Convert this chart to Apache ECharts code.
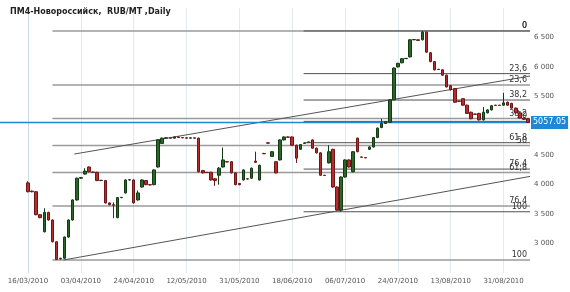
<!DOCTYPE html>
<html><head><meta charset="utf-8">
<script src="https://cdn.jsdelivr.net/npm/echarts@6/dist/echarts.min.js"></script>
<style>html,body{margin:0;padding:0;background:#fff}#c{width:570px;height:292px}</style>
</head><body><div id="c"></div>
<script>
const chartTitle = 'ПМ4-Новороссийск,  RUB/MT ,Daily';
const tickLabels = ['16/03/2010','03/04/2010','24/04/2010','12/05/2010','31/05/2010','18/06/2010','06/07/2010','24/07/2010','13/08/2010','31/08/2010'];
const tickStep = 13;
const opens = [4030,3890,3880,3490,3200,3530,3400,3030,2740,2750,3110,3400,3740,4110,4180,4300,4215,4210,4070,4070,3690,3660,3440,3780,3860,4080,4080,3740,3960,4070,4000,4000,4300,4700,4790,4795,4790,4810,4800,4795,4790,4795,4790,4240,4210,4210,4100,4160,4300,4390,4390,4200,4020,4080,4100,4110,4400,4080,4530,4710,4480,4390,4420,4760,4810,4810,4670,4600,4700,4720,4760,4620,4540,4160,4370,4600,3960,3570,4130,4420,4220,4790,4470,4460,4600,4640,4800,4970,5040,5060,5440,6000,6070,6140,6170,6460,6460,6460,6590,6240,6090,5960,5950,5860,5680,5630,5420,5460,5350,5230,5200,5210,5100,5220,5270,5350,5350,5350,5400,5380,5300,5220,5130,5120];
const closes = [3880,3880,3490,3440,3530,3400,3030,2730,2750,3110,3400,3740,4110,4120,4230,4220,4210,4070,4075,3690,3660,3650,3780,3785,4080,4085,3690,3860,4080,4000,3995,4250,4760,4790,4795,4790,4810,4800,4795,4790,4795,4790,4220,4200,4205,4080,4070,4280,4420,4385,4200,4000,4000,4250,4095,4280,4380,4330,4525,4705,4560,4200,4760,4810,4805,4670,4450,4680,4705,4725,4620,4540,4160,4155,4560,3960,3570,4130,4420,4300,4560,4560,4465,4455,4640,4800,4960,5040,5070,5440,5980,6060,6140,6145,6460,6465,6450,6590,6250,6090,5950,5955,5860,5660,5610,5400,5415,5350,5210,5120,5195,5100,5230,5270,5340,5345,5345,5390,5350,5300,5220,5130,5110,5057.05];
const lows = [3870,3870,3480,3430,3190,3390,3020,2720,2730,2740,3100,3390,3730,4100,4170,4210,4200,4060,4060,3680,3650,3430,3430,3770,3850,4070,3680,3730,3950,3990,3990,3990,4290,4690,4785,4785,4785,4795,4790,4785,4785,4785,4210,4190,4200,4070,3980,4000,4290,4380,4190,3990,3990,4070,4090,4100,4370,4070,4520,4700,4470,4190,4410,4750,4800,4660,4370,4590,4695,4715,4610,4530,4150,4150,4360,3950,3560,3540,4120,4290,4210,4550,4460,4450,4590,4630,4790,4960,5030,5050,5430,5990,6060,6135,6160,6455,6445,6450,6240,6080,5940,5950,5850,5650,5600,5390,5410,5340,5200,5110,5190,5090,5090,5210,5260,5340,5340,5340,5340,5290,5210,5120,5100,5050];
const highs = [4060,3900,3890,3500,3600,3540,3410,3040,2760,3120,3410,3750,4120,4130,4280,4310,4220,4220,4080,4080,3700,3700,3790,3790,4090,4090,4090,3900,4090,4080,4005,4260,4770,4800,4800,4800,4820,4815,4805,4800,4800,4800,4800,4250,4215,4220,4110,4300,4630,4395,4400,4210,4030,4260,4105,4290,4560,4340,4540,4720,4570,4400,4770,4820,4820,4820,4680,4690,4710,4730,4770,4630,4550,4165,4670,4610,3970,4140,4430,4430,4570,4800,4475,4465,4650,4810,4970,5120,5080,5450,5990,6070,6150,6150,6470,6470,6465,6610,6600,6250,6100,5965,5960,5870,5690,5640,5425,5470,5360,5240,5205,5220,5320,5280,5350,5355,5355,5560,5410,5390,5310,5230,5140,5130];
const fibHigh = 6610, fibLowA = 2720, fibLowB = 3540;
const fibRatios = [0, 23.6, 38.2, 50, 61.8, 76.4, 100];
const fibStartA = 6, fibStartB = 67.8;
const trendUpper = [[11.4, 4520], [123.5, 5845]];
const trendLower = [[8.7, 2720], [123.5, 4140]];
const lastPrice = closes[closes.length - 1];

const n = closes.length;
const cats = closes.map((_, i) => String(i));
const candles = closes.map((c, i) => [opens[i], c, lows[i], highs[i]]);
const isTick = i => i % tickStep === 0 && (i / tickStep) < tickLabels.length;
const FONT = 'DejaVu Sans';

function fibSeries(low, start, color, width) {
  return fibRatios.map(r => {
    const v = fibHigh - (fibHigh - low) * r / 100;
    return {
      type: 'line', xAxisIndex: 1, yAxisIndex: 0, clip: false, silent: true,
      symbol: 'circle', symbolSize: 0, showSymbol: true, animation: false,
      lineStyle: { color: color, width: width },
      itemStyle: { color: color },
      data: [[start, v], { value: [n - 0.5, v], label: {
        show: true, formatter: String(r).replace('.', ','), position: 'left',
        distance: 3, verticalAlign: 'bottom', offset: [0, -1],
        color: '#333', fontSize: 8, fontFamily: FONT } }],
      z: 3
    };
  });
}
function trendSeries(pts) {
  return { type: 'line', xAxisIndex: 1, yAxisIndex: 0, clip: false, silent: true,
    showSymbol: false, symbol: 'none', animation: false,
    lineStyle: { color: '#555', width: 1 }, data: pts, z: 3 };
}

const chart = echarts.init(document.getElementById('c'), null, { renderer: 'canvas' });
chart.setOption({
  animation: false,
  backgroundColor: '#fff',
  title: { text: chartTitle, left: 5, top: 3,
    textStyle: { fontSize: 8, fontWeight: 'bold', color: '#222', fontFamily: FONT } },
  grid: [
    { left: 26, right: 40, top: 8, bottom: 19 },
    { left: 0, right: 40, top: 8, bottom: 19 }
  ],
  xAxis: [
    { type: 'category', gridIndex: 0, data: cats, boundaryGap: true,
      axisLine: { show: false }, axisTick: { show: false },
      axisLabel: { interval: (i) => isTick(i), formatter: (v, i) => isTick(i) ? tickLabels[i / tickStep] : '',
        fontSize: 7, color: '#555', fontFamily: FONT, margin: 5 },
      splitLine: { show: true, interval: (i) => isTick(i), alignWithLabel: true,
        lineStyle: { color: '#e2eaf1', width: 1 } } },
    { type: 'value', gridIndex: 0, min: -0.5, max: n - 0.5, show: false },
    { type: 'value', gridIndex: 1, min: 0, max: 1, show: false }
  ],
  yAxis: [
    { type: 'value', gridIndex: 0, position: 'right', min: 2500, max: 7000, interval: 500,
      axisLine: { show: true, lineStyle: { color: '#cddbe6' } }, axisTick: { show: false },
      splitLine: { show: false },
      axisLabel: { showMinLabel: false, showMaxLabel: false, margin: 4, fontSize: 7, color: '#555', fontFamily: FONT,
        formatter: v => (v === 5000 ? '' : String(v).replace(/\B(?=(\d{3})+(?!\d))/g, ' ')) } },
    { type: 'value', gridIndex: 1, min: 2500, max: 7000, show: false }
  ],
  series: [
    ...fibSeries(fibLowA, fibStartA, '#9a9a9a', 1.6),
    ...fibSeries(fibLowB, fibStartB, '#505050', 1),
    trendSeries(trendUpper),
    trendSeries(trendLower),
    { type: 'line', xAxisIndex: 2, yAxisIndex: 1, silent: true, symbol: 'none', clip: false,
      lineStyle: { color: '#1e88d6', width: 1.5 }, data: [[0, lastPrice], [1, lastPrice]],
      endLabel: { show: true, formatter: lastPrice.toFixed(2), distance: 1,
        backgroundColor: '#1e88d6', color: '#fff', fontSize: 8, fontFamily: FONT, padding: [3, 2, 2, 2] },
      z: 4 },
    { type: 'candlestick', xAxisIndex: 0, yAxisIndex: 0, data: candles, barWidth: 3, clip: false,
      itemStyle: { color: '#2a662a', color0: '#b52d2d', borderColor: '#143a14', borderColor0: '#6e1616', borderWidth: 1 },
      z: 5 }
  ]
});
</script></body></html>
